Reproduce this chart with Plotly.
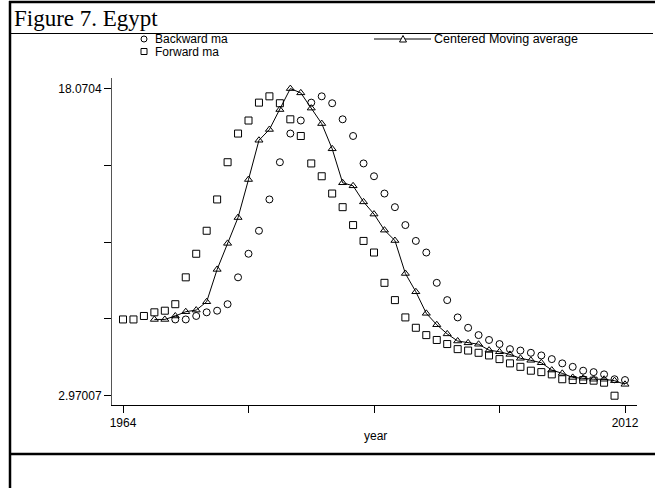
import plotly.graph_objects as go

# ---------------- data ----------------
years_forward = list(range(1964, 2012))
forward_ma = [6.72, 6.72, 6.89, 7.07, 7.15, 7.47, 8.79, 9.95, 11.08, 12.62,
              14.45, 15.86, 16.50, 17.38, 17.69, 17.35, 16.56, 15.74, 14.39, 13.76,
              12.91, 12.24, 11.36, 10.58, 10.01, 8.52, 7.67, 6.82, 6.31, 5.95,
              5.71, 5.51, 5.26, 5.19, 5.08, 4.95, 4.77, 4.56, 4.39, 4.20,
              4.13, 4.02, 3.78, 3.74, 3.74, 3.71, 3.61, 2.97007]

years_backward = list(range(1969, 2013))
backward_ma = [6.72, 6.72, 6.89, 7.07, 7.15, 7.47, 8.79, 9.95, 11.08, 12.62,
               14.45, 15.86, 16.50, 17.38, 17.69, 17.35, 16.56, 15.74, 14.39, 13.76,
               12.91, 12.24, 11.36, 10.58, 10.01, 8.52, 7.67, 6.82, 6.31, 5.95,
               5.71, 5.51, 5.26, 5.19, 5.08, 4.95, 4.77, 4.56, 4.39, 4.20,
               4.13, 4.02, 3.78, 3.74]

years_centered = list(range(1967, 2013))
centered_ma = [6.72, 6.72, 6.89, 7.10, 7.18, 7.59, 9.18, 10.46, 11.73, 13.60,
               15.53, 16.06, 17.04, 18.0704, 17.86, 17.11, 16.35, 15.11, 13.44, 13.29,
               12.50, 11.90, 11.11, 10.60, 8.98, 8.08, 7.02, 6.46, 6.01, 5.66,
               5.57, 5.50, 5.21, 5.13, 5.00, 4.81, 4.71, 4.59, 4.23, 4.07,
               3.87, 3.83, 3.78, 3.78, 3.71, 3.53]

y_min = 2.97007
y_max = 18.0704
x_tick_vals = [1964, 1976, 1988, 2000, 2012]
x_tick_text = ["1964", "", "", "", "2012"]
y_tick_vals = [y_min + i * (y_max - y_min) / 4 for i in range(5)]
y_tick_text = ["2.97007", "", "", "", "18.0704"]

title_text = "Figure 7. Egypt"
legend_labels = ["Backward ma", "Forward ma", "Centered Moving average"]
x_title = "year"

# ---------------- figure ----------------
W, H = 655, 488
L, R, T, B = 112, 18, 78, 83
pw, ph = W - L - R, H - T - B


def px_x(px):
    return (px - L) / pw


def px_y(py):
    return (H - B - py) / ph


FONT = "Liberation Sans, Arial, sans-serif"

fig = go.Figure()
fig.add_trace(go.Scatter(x=years_backward, y=backward_ma, mode="markers",
                         marker=dict(symbol="circle-open", size=7,
                                     color="black", line=dict(width=1)),
                         name=legend_labels[0]))
fig.add_trace(go.Scatter(x=years_forward, y=forward_ma, mode="markers",
                         marker=dict(symbol="square-open", size=7,
                                     color="black", line=dict(width=1)),
                         name=legend_labels[1]))
fig.add_trace(go.Scatter(x=years_centered, y=centered_ma, mode="lines+markers",
                         line=dict(color="black", width=1),
                         marker=dict(symbol="triangle-up-open", size=7,
                                     color="black", line=dict(width=1)),
                         name=legend_labels[2]))

shapes = []
# outer frame pieces
shapes.append(dict(type="line", xref="paper", yref="paper",
                   x0=px_x(9), x1=px_x(656), y0=px_y(2), y1=px_y(2),
                   line=dict(color="black", width=2.5)))
shapes.append(dict(type="line", xref="paper", yref="paper",
                   x0=px_x(10), x1=px_x(10), y0=px_y(1), y1=px_y(490),
                   line=dict(color="black", width=2.5)))
shapes.append(dict(type="line", xref="paper", yref="paper",
                   x0=px_x(10), x1=px_x(653), y0=px_y(33.5), y1=px_y(33.5),
                   line=dict(color="black", width=1)))
shapes.append(dict(type="line", xref="paper", yref="paper",
                   x0=px_x(10), x1=px_x(656), y0=px_y(454), y1=px_y(454),
                   line=dict(color="black", width=2.5)))
# legend symbols
shapes.append(dict(type="circle", xref="paper", yref="paper",
                   xsizemode="pixel", ysizemode="pixel",
                   xanchor=px_x(144), yanchor=px_y(39),
                   x0=-3, x1=3, y0=-3, y1=3,
                   line=dict(color="black", width=1)))
shapes.append(dict(type="rect", xref="paper", yref="paper",
                   xsizemode="pixel", ysizemode="pixel",
                   xanchor=px_x(144), yanchor=px_y(51.5),
                   x0=-3, x1=3, y0=-3, y1=3,
                   line=dict(color="black", width=1)))
shapes.append(dict(type="line", xref="paper", yref="paper",
                   x0=px_x(374), x1=px_x(431), y0=px_y(39), y1=px_y(39),
                   line=dict(color="black", width=1)))
shapes.append(dict(type="path", xref="paper", yref="paper",
                   xsizemode="pixel", ysizemode="pixel",
                   xanchor=px_x(403), yanchor=px_y(39),
                   path="M -3.5 -3 L 3.5 -3 L 0 3.5 Z",
                   fillcolor="white",
                   line=dict(color="black", width=1)))

annotations = [
    dict(text=title_text, xref="paper", yref="paper", x=px_x(12), y=px_y(18),
         xanchor="left", yanchor="middle", showarrow=False,
         font=dict(family="Liberation Serif, Times New Roman, serif",
                   size=23, color="black")),
    dict(text=legend_labels[0], xref="paper", yref="paper", x=px_x(154), y=px_y(38.5),
         xanchor="left", yanchor="middle", showarrow=False, borderpad=0,
         font=dict(family=FONT, size=12, color="black")),
    dict(text=legend_labels[1], xref="paper", yref="paper", x=px_x(154), y=px_y(51.5),
         xanchor="left", yanchor="middle", showarrow=False, borderpad=0,
         font=dict(family=FONT, size=12, color="black")),
    dict(text=legend_labels[2], xref="paper", yref="paper", x=px_x(433), y=px_y(38.5),
         xanchor="left", yanchor="middle", showarrow=False, borderpad=0,
         font=dict(family=FONT, size=12.5, color="black")),
    dict(text=x_title, xref="paper", yref="paper", x=px_x(375), y=px_y(436),
         xanchor="center", yanchor="middle", showarrow=False,
         font=dict(family=FONT, size=12, color="black")),
]

x_lo = 1964 - (122.7 - 111.7) / 10.458
x_hi = 2012 + (636.7 - 624.7) / 10.458
y_lo = y_min - (405 - 395.7) / 20.36
y_hi = y_max + (88.3 - 77.7) / 20.36

fig.update_layout(
    width=W, height=H,
    margin=dict(l=L, r=R, t=T, b=B, pad=0),
    paper_bgcolor="white", plot_bgcolor="white",
    showlegend=False,
    font=dict(family=FONT, size=12, color="black"),
    shapes=shapes, annotations=annotations,
    xaxis=dict(range=[x_lo, x_hi], tickmode="array", tickvals=x_tick_vals,
               ticktext=x_tick_text, ticks="outside", ticklen=7, tickwidth=1,
               tickcolor="black", showline=True, linecolor="black", linewidth=1,
               showgrid=False, zeroline=False,
               tickfont=dict(family=FONT, size=12, color="black")),
    yaxis=dict(range=[y_lo, y_hi], tickmode="array", tickvals=y_tick_vals,
               ticktext=y_tick_text, ticks="outside", ticklen=7, tickwidth=1,
               tickcolor="black", showline=True, linecolor="#555", linewidth=1,
               showgrid=False, zeroline=False,
               tickfont=dict(family=FONT, size=12, color="black")),
)

fig.write_html("out.html",
               config={"displayModeBar": False},
               post_script="document.body.style.margin='0';"
                           "document.body.style.padding='0';")
